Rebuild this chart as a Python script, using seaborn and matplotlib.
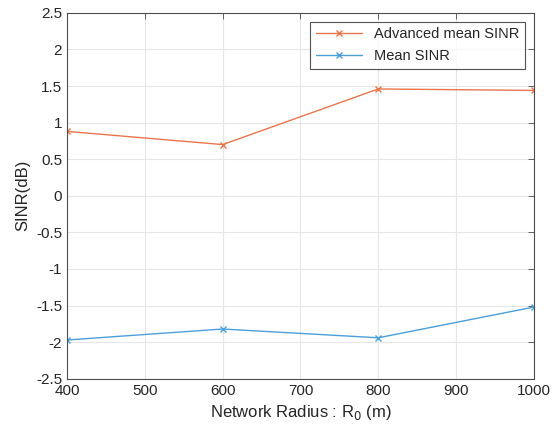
import matplotlib
matplotlib.use("Agg")
import matplotlib.pyplot as plt
import seaborn as sns
import pandas as pd

radius = [400, 600, 800, 1000]
adv_sinr = [0.88, 0.70, 1.46, 1.44]
mean_sinr = [-1.97, -1.82, -1.94, -1.52]
series_names = ["Advanced mean SINR", "Mean SINR"]
palette = {"Advanced mean SINR": "#E8764A", "Mean SINR": "#4A9FDA"}

df = pd.concat([
    pd.DataFrame({"R": radius, "SINR": adv_sinr, "Series": series_names[0]}),
    pd.DataFrame({"R": radius, "SINR": mean_sinr, "Series": series_names[1]}),
])

sns.set_style("white")
plt.rcParams["font.family"] = ["Liberation Sans", "DejaVu Sans"]
txt = "#262626"

fig, ax = plt.subplots(figsize=(5.59, 4.28), dpi=100)
fig.subplots_adjust(left=0.12, right=0.955, top=0.97, bottom=0.115)

sns.lineplot(data=df, x="R", y="SINR", hue="Series", palette=palette,
             marker="x", markersize=5, markeredgewidth=1.0, linewidth=1.0,
             ax=ax, legend=False)

# seaborn paints marker edges white, 'x' needs the line colour
for line in ax.lines:
    line.set_markeredgecolor(line.get_color())

ax.set_xlim(400, 1000)
ax.set_ylim(-2.5, 2.5)
ax.set_xticks(range(400, 1001, 100))
ax.set_yticks([-2.5, -2, -1.5, -1, -0.5, 0, 0.5, 1, 1.5, 2, 2.5])
ax.set_yticklabels([f"{v:g}" for v in ax.get_yticks()])
ax.grid(True, color="#E6E6E6", linewidth=0.8)
ax.set_axisbelow(True)
for s in ax.spines.values():
    s.set_visible(True)
    s.set_color("#4D4D4D")
    s.set_linewidth(0.8)
ax.tick_params(direction="in", length=4, width=0.6, colors="#4D4D4D",
               labelcolor=txt, labelsize=11, top=True, right=True)
ax.set_xlabel("Network Radius : R$_0$ (m)", fontsize=12, color=txt)
ax.set_ylabel("SINR(dB)", fontsize=12, color=txt)

leg = ax.legend(ax.lines[:2], series_names, loc="upper right", fontsize=10.5,
                frameon=True, fancybox=False, edgecolor="#262626",
                borderaxespad=0.6, handlelength=3.2)
leg.get_frame().set_linewidth(0.8)

plt.savefig("out.png", dpi=100)
